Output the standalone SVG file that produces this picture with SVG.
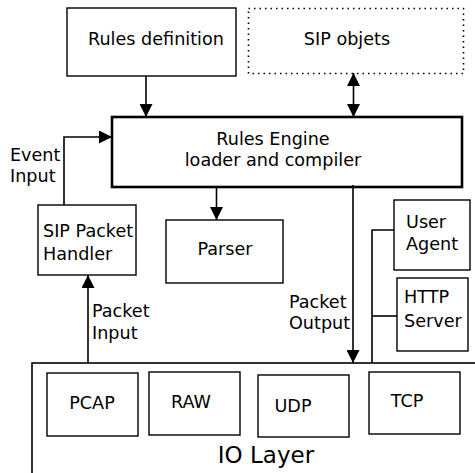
<svg xmlns="http://www.w3.org/2000/svg" width="475" height="473" viewBox="0 0 475 473">
<defs>
<style>
text{font-family:"DejaVu Sans","Liberation Sans",sans-serif;font-size:17.6px;fill:#000}
.box{fill:#fff;stroke:#000;stroke-width:1.4}
.line{fill:none;stroke:#000;stroke-width:1.6}
.mid{text-anchor:middle}
</style>
<marker id="ah" markerUnits="userSpaceOnUse" markerWidth="13" markerHeight="13" viewBox="0 0 12 12" refX="12" refY="6" orient="auto-start-reverse">
<path d="M0,0 L12,6 L0,12 Z" fill="#000"/>
</marker>
</defs>
<rect width="475" height="473" fill="#fff"/>
<g id="io-layer">
<rect class="box" x="32" y="363" width="460" height="130" style="stroke-width:1.6"/>
<text class="mid" x="266" y="463" style="font-size:23px">IO Layer</text>
</g>
<g id="pcap"><rect class="box" x="47" y="373" width="91" height="63"/><text class="mid" x="92" y="409">PCAP</text></g>
<g id="raw"><rect class="box" x="149" y="372" width="91" height="63"/><text class="mid" x="191" y="408">RAW</text></g>
<g id="udp"><rect class="box" x="258" y="375" width="91" height="62"/><text class="mid" x="293" y="412">UDP</text></g>
<g id="tcp"><rect class="box" x="369" y="372" width="91" height="62"/><text class="mid" x="407" y="407">TCP</text></g>
<g id="rules-definition"><rect class="box" x="67" y="8" width="169" height="68"/><text x="88" y="45">Rules definition</text></g>
<g id="sip-objets"><rect x="248.5" y="8.5" width="215" height="65" fill="none" stroke="#000" stroke-width="1.6" stroke-dasharray="1.5,4"/><text class="mid" x="347" y="45">SIP objets</text></g>
<g id="rules-engine"><rect x="112" y="117" width="350" height="70" fill="#fff" stroke="#000" stroke-width="2.6"/><text class="mid" x="273" y="145">Rules Engine</text><text class="mid" x="273" y="166">loader and compiler</text></g>
<g id="sip-packet-handler"><rect class="box" x="38" y="205" width="98" height="70"/><text x="43" y="237">SIP Packet</text><text x="43" y="260">Handler</text></g>
<g id="parser"><rect class="box" x="166" y="220" width="117" height="63"/><text class="mid" x="225" y="255">Parser</text></g>
<g id="user-agent"><rect class="box" x="394" y="200" width="76" height="70"/><text x="406" y="228">User</text><text x="406" y="250">Agent</text></g>
<g id="http-server"><rect class="box" x="397" y="278" width="71" height="73"/><text x="404" y="303">HTTP</text><text x="404" y="327">Server</text></g>
<g id="connectors">
<line class="line" x1="146" y1="76" x2="146" y2="117" marker-end="url(#ah)"/>
<line class="line" x1="353.5" y1="73" x2="353.5" y2="117" marker-start="url(#ah)" marker-end="url(#ah)"/>
<polyline class="line" points="64,205 64,137 112,137" marker-end="url(#ah)"/>
<line class="line" x1="216.5" y1="187" x2="216.5" y2="220" marker-end="url(#ah)"/>
<line class="line" x1="353" y1="185" x2="353" y2="363" marker-end="url(#ah)"/>
<line class="line" x1="88" y1="363" x2="88" y2="275" marker-end="url(#ah)"/>
<polyline class="line" points="372,363 372,230 394,230"/>
<line class="line" x1="372" y1="316" x2="397" y2="316"/>
<text x="10" y="161">Event</text><text x="10" y="182">Input</text>
<text x="92" y="317">Packet</text><text x="92" y="339">Input</text>
<text x="289" y="308">Packet</text><text x="289" y="329">Output</text>
</g>
</svg>
